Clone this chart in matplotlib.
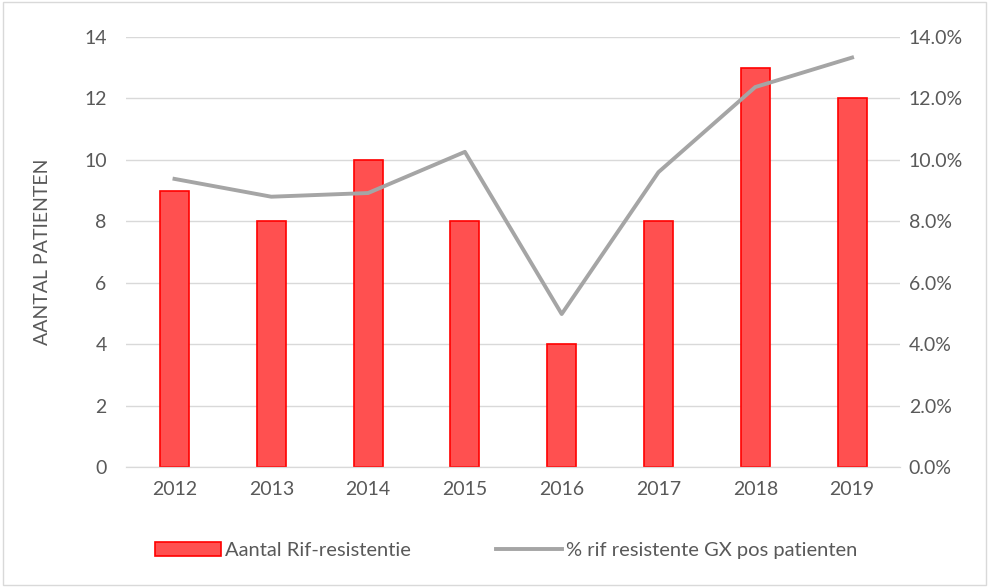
import matplotlib.pyplot as plt
from matplotlib.ticker import PercentFormatter

plt.rcParams['font.family'] = ['Lato', 'DejaVu Sans']

years = ['2012', '2013', '2014', '2015', '2016', '2017', '2018', '2019']
rif_resistant = [9, 8, 10, 8, 4, 8, 13, 12]
pct_resistant = [9.38, 8.8, 8.92, 10.26, 4.98, 9.6, 12.37, 13.33]

text_color = '#595959'

fig = plt.figure(figsize=(9.89, 5.87), dpi=100)
fig.patches.append(plt.Rectangle((0.003, 0.003), 0.994, 0.994, transform=fig.transFigure,
                                 fill=False, edgecolor='#d9d9d9', linewidth=1))
ax = fig.add_axes([0.1275, 0.2044, 0.783, 0.7326])
x = range(len(years))

ax.bar(x, rif_resistant, width=0.3, color='#ff5050', edgecolor='#ff0000',
       linewidth=1.2, label='Aantal Rif-resistentie', zorder=2)
ax.set_ylim(0, 14)
ax.set_yticks(range(0, 15, 2))
ax.set_xlim(-0.5, len(years) - 0.5)
ax.set_xticks(list(x))
ax.set_xticklabels(years)
ax.grid(axis='y', color='#d9d9d9', linewidth=1, zorder=0)
ax.set_axisbelow(True)
ax.set_ylabel('AANTAL PATIENTEN', color=text_color, fontsize=14, labelpad=24)

ax2 = ax.twinx()
ax2.plot(x, pct_resistant, color='#a5a5a5', linewidth=2.8,
         label='% rif resistente GX pos patienten', zorder=3)
ax2.set_ylim(0, 14)
ax2.set_yticks(range(0, 15, 2))
ax2.yaxis.set_major_formatter(PercentFormatter(decimals=1))

for a in (ax, ax2):
    for side in ('top', 'left', 'right'):
        a.spines[side].set_visible(False)
    a.spines['bottom'].set_color('#d9d9d9')
    a.tick_params(length=0, colors=text_color, labelsize=14)
ax.tick_params(axis='y', pad=14)
ax.tick_params(axis='x', pad=10)
ax2.tick_params(axis='y', pad=6)

h1, l1 = ax.get_legend_handles_labels()
h2, l2 = ax2.get_legend_handles_labels()
fig.legend(h1 + h2, l1 + l2, loc='center', bbox_to_anchor=(0.512, 0.062), ncol=2,
           frameon=False, fontsize=14.5, labelcolor=text_color, columnspacing=4.2,
           handlelength=3.3, handletextpad=0.2)

fig.savefig('out.png', dpi=100)
